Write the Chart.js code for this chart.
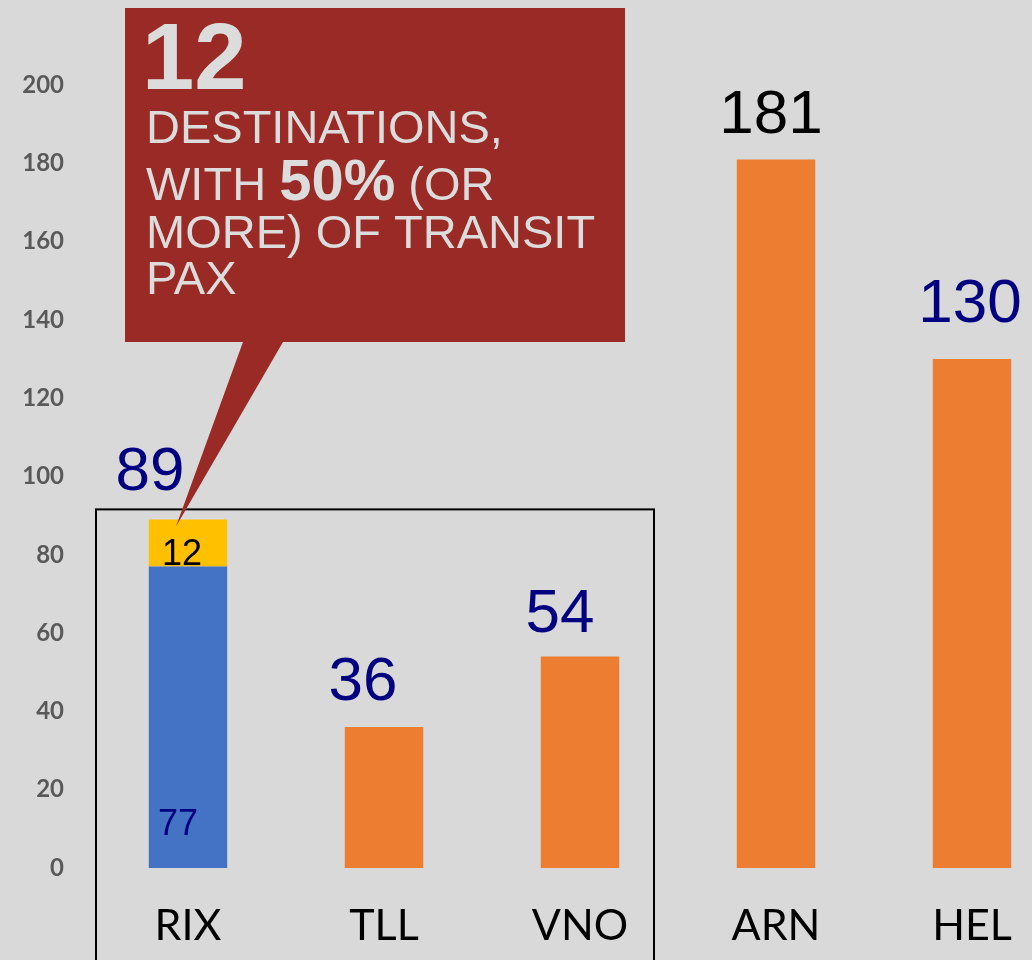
<!DOCTYPE html>
<html>
<head>
<meta charset="utf-8">
<script src="https://cdn.jsdelivr.net/npm/chart.js@4/dist/chart.umd.min.js"></script>
<style>
  html, body { margin: 0; padding: 0; overflow: hidden; background: #d9d9d9; width: 1032px; height: 960px; }
  canvas { display: block; }
</style>
</head>
<body>
<canvas id="c" width="1110" height="960"></canvas>
<script>
// ---- data ----
const categories = ['RIX', 'TLL', 'VNO', 'ARN', 'HEL'];
const baseValues = [77, 36, 54, 181, 130];
const transitValues = [12, null, null, null, null];
const yTickStep = 20;
const yMax = 200;
const calloutNumber = '12';
const calloutLines = ['DESTINATIONS,', 'WITH ', '50%', ' (OR', 'MORE) OF TRANSIT', 'PAX'];

const totals = baseValues.map((v, i) => v + (transitValues[i] || 0));

// ---- styles ----
const BLUE = '#4472c4', ORANGE = '#ed7d31', YELLOW = '#ffc000', NAVY = '#000080';
const baseColors = categories.map((c, i) => transitValues[i] ? BLUE : ORANGE);
const totalColors = [NAVY, NAVY, NAVY, '#000000', NAVY];
const totalOffsets = [[-38, 30], [-21, 27], [-20, 25], [-5, 26], [-2, 37]];

const decor = {
  id: 'decor',
  beforeDraw(chart) {
    const ctx = chart.ctx;
    ctx.save();
    ctx.fillStyle = '#d9d9d9';
    ctx.fillRect(0, 0, chart.width, chart.height);
    ctx.restore();
  },
  afterDatasetsDraw(chart) {
    const ctx = chart.ctx;
    const x = chart.scales.x, y = chart.scales.y;
    const m0 = chart.getDatasetMeta(0), m1 = chart.getDatasetMeta(1);
    ctx.save();
    // total labels
    ctx.font = '62px "Liberation Sans", Arial, sans-serif';
    ctx.textAlign = 'center';
    ctx.textBaseline = 'alphabetic';
    totals.forEach((t, i) => {
      const bx = m0.data[i].x;
      const by = y.getPixelForValue(t);
      ctx.fillStyle = totalColors[i];
      ctx.fillText(String(t), bx + totalOffsets[i][0], by - totalOffsets[i][1]);
    });
    // inner labels on RIX
    ctx.font = '36px "Liberation Sans", Arial, sans-serif';
    ctx.textAlign = 'left';
    transitValues.forEach((v, i) => {
      if (!v) return;
      const el0 = m0.data[i], el1 = m1.data[i];
      ctx.fillStyle = '#000000';
      ctx.fillText(String(v), el0.x - 26, el1.base - 2);
      ctx.fillStyle = NAVY;
      ctx.fillText(String(baseValues[i]), el0.x - 30, y.getPixelForValue(0) - 33);
    });
    // rectangle around first three airports
    const rl = x.getPixelForValue(0) - 92;
    const rr = x.getPixelForValue(2) + 74;
    const rt = y.getPixelForValue(91.6);
    ctx.strokeStyle = '#000000';
    ctx.lineWidth = 2;
    ctx.strokeRect(rl, rt, rr - rl, chart.height + 10 - rt);

    // callout
    const el1 = m1.data[0];
    const tipX = el1.x - 12, tipY = el1.y + 7;
    ctx.fillStyle = '#992a25';
    ctx.beginPath();
    ctx.moveTo(125, 8);
    ctx.lineTo(625, 8);
    ctx.lineTo(625, 342);
    ctx.lineTo(283, 342);
    ctx.lineTo(tipX, tipY);
    ctx.lineTo(243, 342);
    ctx.lineTo(125, 342);
    ctx.closePath();
    ctx.fill();

    ctx.fillStyle = '#dcdcdc';
    ctx.textAlign = 'left';
    ctx.font = 'bold 94px "Liberation Sans", Arial, sans-serif';
    ctx.fillText(calloutNumber, 142, 89);
    const reg = '47px "Liberation Sans", Arial, sans-serif';
    ctx.font = reg;
    ctx.fillText(calloutLines[0], 146, 143);
    let cx = 146;
    ctx.fillText(calloutLines[1], cx, 200);
    cx += ctx.measureText(calloutLines[1]).width;
    ctx.font = 'bold 58px "Liberation Sans", Arial, sans-serif';
    ctx.fillText(calloutLines[2], cx, 200);
    cx += ctx.measureText(calloutLines[2]).width;
    ctx.font = reg;
    ctx.fillText(calloutLines[3], cx, 200);
    ctx.fillText(calloutLines[4], 146, 248);
    ctx.fillText(calloutLines[5], 146, 294);
    ctx.restore();
  }
};

new Chart(document.getElementById('c'), {
  type: 'bar',
  data: {
    labels: categories,
    datasets: [
      { label: 'Destinations', data: baseValues, backgroundColor: baseColors, borderWidth: 0 },
      { label: 'Transit 50%+', data: transitValues, backgroundColor: YELLOW, borderWidth: 0 }
    ]
  },
  options: {
    responsive: false,
    animation: false,
    devicePixelRatio: 1,
    layout: { padding: { top: 85, right: 40, left: 0, bottom: 0 } },
    plugins: { legend: { display: false }, tooltip: { enabled: false } },
    datasets: { bar: { categoryPercentage: 1, barPercentage: 0.4 } },
    scales: {
      x: {
        stacked: true,
        grid: { display: false, drawTicks: false },
        border: { display: false },
        ticks: {
          color: '#000000',
          padding: 32,
          font: { family: 'Lato, "Liberation Sans", Arial, sans-serif', size: 43 }
        },
        afterFit(s) { s.height = 92; }
      },
      y: {
        stacked: true,
        min: 0,
        max: yMax,
        grid: { display: false, drawTicks: false },
        border: { display: false },
        ticks: {
          stepSize: yTickStep,
          color: '#595959',
          padding: 26,
          font: { family: 'Lato, "Liberation Sans", Arial, sans-serif', size: 24, weight: 'bold' }
        },
        afterFit(s) { s.width = 90; }
      }
    }
  },
  plugins: [decor]
});
</script>
</body>
</html>
